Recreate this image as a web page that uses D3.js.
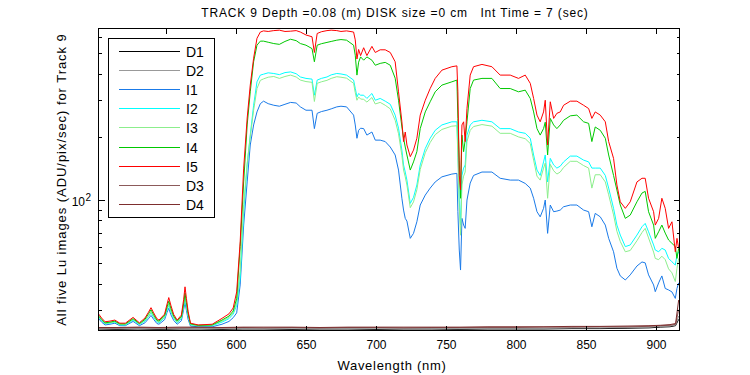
<!DOCTYPE html>
<html><head><meta charset="utf-8">
<script src="https://cdn.jsdelivr.net/npm/d3@7"></script>
<style>
html,body{margin:0;padding:0;background:#fff;}
svg{display:block;font-family:"Liberation Sans",Arial,sans-serif;}
</style></head>
<body><svg id="chart" width="750" height="375"></svg>
<script>
// ---------- data ----------
const titleText = "TRACK 9 Depth =0.08 (m) DISK size =0 cm   Int Time = 7 (sec)";
const xLabel = "Wavelength (nm)";
const yLabel = "All five Lu images (ADU/pix/sec) for Track 9";
const xTicks = [550, 600, 650, 700, 750, 800, 850, 900];
const yMajorTicks = [100];
const yMinorTicks = [30, 40, 50, 60, 70, 80, 90, 200, 300, 400, 500, 600];
const seriesNames = ["D1", "D2", "I1", "I2", "I3", "I4", "I5", "D3", "D4"];
const seriesColors = ["#000000", "#999999", "#1a7ae8", "#00ffff", "#8cee8c", "#00c800", "#ff0000", "#8c5a5a", "#7d2e2e"];

const wave = [
502, 504, 506.5, 510, 513.5, 517, 521, 526.5, 531, 535,
537.5, 539.3, 541.2, 543.5, 545, 549, 550.8, 552, 553.5, 555.5, 558, 561, 562.6, 563.6, 564.6, 565.8,
567.5, 573, 583, 590, 595, 598, 600.5,
603, 605.5, 608, 610.2, 612.6, 615, 617.4, 619.7,
623, 627, 631, 635, 639, 643, 646, 650, 654.3, 656, 658, 661, 665, 668, 672, 675, 679, 684, 685.2, 686.4, 687.6, 689, 691.2, 693.5, 697.1, 699.5, 703, 706.6, 710.2,
713.7, 716.1, 718.5, 719.7, 720.9, 722.1, 724.5, 726.8, 729.2, 731.6, 735.2, 738.7, 742.3, 747.1, 754.2, 757.8, 758.5, 759.5, 760.4, 761.4, 762.6, 763.7, 765, 767.3, 769.7, 775.7, 782.8, 788.7, 795.9, 801.8, 806.6,
810.2, 812.6, 815, 817.3, 819.7, 820.9, 822.6, 824.5, 826.9, 829.2, 831.6, 834, 838.8, 843.5, 848.3, 851.9, 854.2, 856.6, 860.2, 863.8, 866.2, 869.7, 872.1, 874.5, 878.1, 881.6, 886.4, 890, 892.3, 894.7, 898.3, 899.5, 901.9, 904.2, 906.6, 909, 911.4, 913.8, 915, 916.2];

const I1 = [
27.2, 26.2, 25.4, 25.6, 25.9, 25.2, 25.2, 26.4, 25.2, 26.0,
27.2, 28.2, 27.0, 25.8, 25.6, 26.9, 29.2, 30.5, 28.4, 26.7, 25.6, 26.6, 30.0, 32.5, 29.8, 27.0,
25.1, 24.9, 24.9, 25.6, 26.4, 27.5, 29.0,
39.4, 76, 122, 183, 228, 263, 288, 296,
288, 283, 280, 286, 292, 290, 278, 268, 268, 219, 259, 264, 268, 272, 278, 280, 278, 254, 228, 197, 215, 220, 219, 204, 211, 193, 193, 190, 179,
164, 139, 102, 89.6, 81.8, 79.4, 65.7, 69.4, 78.8, 94.7, 105.6, 114, 122, 129, 133, 134, 88, 57.8, 46.4, 81.8, 76, 73.3, 100, 120.5, 131, 136, 136, 127, 124.5, 124.5, 120,
114, 102, 88, 83.2, 91.3, 100, 69.4, 94.7, 88, 88.6, 89.6, 92.9, 94.7, 94.7, 89.6, 88, 74.6, 86.4, 83.2, 76, 65.7, 56.7, 47.3, 43.5, 41.6, 44.0, 48.5, 50.7, 50.2, 44, 39.4, 36.6, 40.3, 43.5, 37.9, 37.3, 36.5, 34.0, 37.9, 40.3];

const I2 = [
27.6, 26.6, 25.7, 25.9, 26.2, 25.4, 25.4, 26.8, 25.5, 26.5,
27.8, 29.0, 27.6, 26.3, 26.0, 27.5, 30.0, 31.5, 29.2, 27.4, 26.0, 27.2, 31.0, 34.0, 31.0, 28.0,
25.4, 25.1, 25.2, 26.2, 27.2, 28.6, 31.5,
42.5, 88, 147, 204, 283, 366, 394, 398,
404, 401, 396, 405, 408, 400, 386, 380, 377, 316, 373, 380, 386, 395, 401, 399, 394, 373, 341, 310, 322, 316, 316, 305, 322, 299, 305, 296, 286,
254, 220, 173, 147, 136, 124.5, 96.4, 103, 118, 147, 176, 197, 215, 228, 236, 236, 173, 100, 76, 131, 142, 147, 204, 228, 236, 240, 236, 219, 219, 211, 208,
197, 164, 139, 131, 152, 164, 122, 158, 147, 142, 145, 152, 162, 162, 155, 152, 142, 142, 142, 131, 114, 91.3, 76, 68.1, 60.0, 61.1, 68.1, 74.6, 77.4, 70.6, 61.1, 57.8, 56.7, 58.9, 57.8, 52.7, 50.8, 49.0, 54.7, 56.7];

const I3 = [
27.8, 26.8, 25.8, 26.0, 26.3, 25.5, 25.5, 27.0, 25.6, 26.7,
28.0, 29.3, 27.9, 26.5, 26.2, 27.7, 30.5, 32.0, 29.6, 27.6, 26.2, 27.4, 31.5, 34.8, 31.5, 28.3,
25.5, 25.2, 25.3, 26.5, 27.6, 29.0, 32.5,
46, 95, 150, 200, 268, 340, 372, 378,
385, 388, 380, 388, 394, 386, 373, 367, 364, 295, 360, 366, 372, 380, 387, 385, 381, 360, 325, 299, 310, 303, 302, 293, 308, 287, 292, 283, 272,
240, 207, 163, 139, 129, 118, 92, 98, 112, 140, 168, 188, 205, 217, 225, 226, 160, 92, 68, 118, 130, 136, 190, 215, 224, 229, 225, 208, 208, 200, 196,
186, 155, 130, 124.5, 142, 150, 102, 148, 138, 133, 136, 143, 153, 153, 146, 142, 114, 132, 132, 122, 106, 85, 71, 63.5, 56.7, 57.5, 64, 70, 73.3, 66, 56.5, 52.7, 52, 54, 52, 47, 45, 40.9, 47.3, 52.7];

const I4 = [
28.0, 27.0, 26.0, 26.2, 26.5, 25.7, 25.7, 27.2, 25.8, 27.0,
28.7, 30.0, 28.4, 26.8, 26.5, 28.1, 31.0, 33.0, 30.5, 28.0, 26.5, 27.8, 32.0, 36.0, 32.5, 28.8,
25.7, 25.3, 25.4, 26.8, 28.0, 29.6, 34.0,
60, 122, 228, 328, 456, 547, 572, 572,
565, 557, 552, 570, 584, 575, 557, 547, 527, 456, 547, 556, 564, 570, 578, 582, 578, 547, 490, 394, 454, 481, 464, 481, 464, 439, 448, 453, 439,
381, 299, 223, 197, 179, 164, 139, 152, 170, 219, 263, 294, 328, 353, 366, 373, 245, 155, 102, 204, 170, 193, 236, 340, 373, 380, 380, 340, 340, 328, 334,
305, 263, 219, 204, 219, 235, 164, 245, 228, 219, 228, 240, 252, 254, 236, 232, 190, 223, 215, 197, 164, 131, 111.6, 94.7, 81.8, 84.8, 98.1, 108, 110, 88.0, 76.0, 65.7, 70.6, 76, 69.6, 64.5, 62.2, 60.0, 52.7, 58.9];

const I5 = [
28.6, 27.4, 26.3, 26.5, 26.8, 25.9, 25.9, 27.6, 26.0, 27.4,
29.2, 30.7, 29.0, 27.2, 26.8, 28.6, 32.0, 34.3, 31.5, 28.5, 26.8, 28.3, 33.5, 38.6, 34.0, 29.5,
25.9, 25.4, 25.6, 27.3, 28.7, 30.6, 36.5,
63.3, 142, 246, 353, 474, 590, 632, 640,
636, 642, 645, 636, 638, 642, 632, 612, 600, 505, 622, 634, 642, 645, 642, 636, 640, 632, 580, 470, 522, 488, 532, 488, 540, 505, 520, 520, 505,
456, 328, 236, 190, 211, 183, 161, 173, 197, 254, 299, 340, 380, 416, 432, 436, 328, 131, 112, 228, 236, 190, 273, 394, 432, 443, 432, 394, 394, 380, 394,
360, 305, 254, 236, 263, 299, 183, 294, 245, 259, 263, 283, 296, 296, 283, 273, 245, 263, 254, 236, 190, 158, 118, 98.1, 91.3, 98.1, 122, 127, 127, 102, 88, 76, 81.8, 102, 91.3, 73.3, 78.8, 56.7, 65.7, 58.9];

const dWave = [502, 515, 530, 545, 560, 575, 590, 605, 620, 640, 660, 680, 700, 720, 740, 760, 780, 800, 820, 840, 860, 880, 895, 903, 910, 914, 916.2];
const D1 = [24.3, 24.2, 24.3, 24.2, 24.3, 24.3, 24.2, 24.3, 24.3, 24.2, 24.3, 24.3, 24.2, 24.3, 24.3, 24.2, 24.3, 24.3, 24.3, 24.4, 24.4, 24.5, 24.6, 24.8, 24.9, 25.2, 27.0];
const D2 = [24.5, 24.4, 24.5, 24.4, 24.5, 24.4, 24.5, 24.5, 24.4, 24.5, 24.5, 24.4, 24.5, 24.5, 24.5, 24.4, 24.5, 24.5, 24.5, 24.6, 24.6, 24.7, 24.8, 25.0, 25.1, 25.4, 28.0];
const D3 = [24.6, 24.6, 24.7, 24.6, 24.6, 24.7, 24.6, 24.7, 24.6, 24.7, 24.6, 24.7, 24.7, 24.6, 24.7, 24.7, 24.7, 24.7, 24.8, 24.8, 24.9, 24.9, 25.0, 25.2, 25.3, 25.6, 30.0];
const D4 = [24.7, 24.7, 24.8, 24.7, 24.8, 24.8, 24.7, 24.8, 24.8, 24.8, 24.7, 24.8, 24.8, 24.8, 24.8, 24.8, 24.9, 24.9, 24.9, 25.0, 25.0, 25.1, 25.2, 25.3, 25.5, 25.8, 33.4];

// ---------- build ----------
const seriesData = {
  D1: [dWave, D1], D2: [dWave, D2], I1: [wave, I1], I2: [wave, I2], I3: [wave, I3],
  I4: [wave, I4], I5: [wave, I5], D3: [dWave, D3], D4: [dWave, D4]
};

const X0 = 98.5, X1 = 679.5, Y0 = 28.5, Y1 = 330.5;
const x = d3.scaleLinear().domain([501.8, 916.8]).range([X0, X1]);
const y = d3.scaleLog().domain([23.9, 657]).range([Y1, Y0]);

const svg = d3.select("#chart");
const font = '"Liberation Sans", Arial, sans-serif';

svg.append("defs").append("clipPath").attr("id", "plotclip")
  .append("rect").attr("x", X0).attr("y", Y0).attr("width", X1 - X0).attr("height", Y1 - Y0);

// lines
const line = d3.line().x(d => x(d[0])).y(d => y(d[1]));
const gLines = svg.append("g").attr("clip-path", "url(#plotclip)");
seriesNames.forEach((name, i) => {
  const [wx, vy] = seriesData[name];
  const pts = wx.map((w, k) => [w, vy[k]]);
  gLines.append("path").datum(pts)
    .attr("d", line).attr("fill", "none")
    .attr("stroke", seriesColors[i]).attr("stroke-width", 1)
    .attr("stroke-linejoin", "round");
});

// frame
svg.append("rect").attr("x", X0).attr("y", Y0).attr("width", X1 - X0).attr("height", Y1 - Y0)
  .attr("fill", "none").attr("stroke", "#000").attr("stroke-width", 1).attr("shape-rendering", "crispEdges");

// x axes (bottom labels, ticks inward both sides)
const xAxisB = d3.axisBottom(x).tickValues(xTicks).tickSizeInner(-5).tickSizeOuter(0).tickPadding(10);
const gxb = svg.append("g").attr("transform", `translate(0,${Y1})`).call(xAxisB);
const xAxisT = d3.axisTop(x).tickValues(xTicks).tickSizeInner(-5).tickSizeOuter(0).tickFormat("");
const gxt = svg.append("g").attr("transform", `translate(0,${Y0})`).call(xAxisT);
[gxb, gxt].forEach(g => {
  g.select(".domain").remove();
  g.selectAll(".tick line").attr("stroke", "#000").attr("shape-rendering", "crispEdges");
  g.selectAll("text").attr("font-family", font).attr("font-size", "12px").attr("fill", "#000");
});

// y axes
function yAxisGroup(side) {
  const g = svg.append("g");
  const x0 = side === "left" ? X0 : X1;
  const maj = side === "left" ? d3.axisLeft(y) : d3.axisRight(y);
  maj.tickValues(yMajorTicks).tickSizeInner(-6).tickSizeOuter(0).tickFormat("");
  const gm = g.append("g").attr("transform", `translate(${x0},0)`).call(maj);
  const mnr = side === "left" ? d3.axisLeft(y) : d3.axisRight(y);
  mnr.tickValues(yMinorTicks).tickSizeInner(-3).tickSizeOuter(0).tickFormat("");
  const gn = g.append("g").attr("transform", `translate(${x0},0)`).call(mnr);
  [gm, gn].forEach(a => {
    a.select(".domain").remove();
    a.selectAll(".tick line").attr("stroke", "#000").attr("shape-rendering", "crispEdges");
  });
}
yAxisGroup("left");
yAxisGroup("right");

// y tick label 10^2
const yl = svg.append("g").attr("font-family", font).attr("fill", "#000");
yl.append("text").attr("x", 85).attr("y", y(100) + 6).attr("text-anchor", "end")
  .attr("font-size", "12px").text("10");
yl.append("text").attr("x", 85.5).attr("y", y(100) + 0.5).attr("text-anchor", "start")
  .attr("font-size", "10px").text("2");

// title and axis labels
svg.append("text").attr("x", 395).attr("y", 16.5).attr("text-anchor", "middle")
  .attr("font-family", font).attr("font-size", "12px").attr("letter-spacing", "0.85px")
  .attr("xml:space", "preserve").style("white-space", "pre").text(titleText);
svg.append("text").attr("x", (X0 + X1) / 2 + 3).attr("y", 370).attr("text-anchor", "middle")
  .attr("font-family", font).attr("font-size", "13px").attr("letter-spacing", "0.7px").text(xLabel);
svg.append("text").attr("transform", `translate(66,${(Y0 + Y1) / 2}) rotate(-90)`)
  .attr("text-anchor", "middle").attr("font-family", font).attr("font-size", "13px")
  .attr("letter-spacing", "0.95px").text(yLabel);

// legend
const lg = svg.append("g");
lg.append("rect").attr("x", 108.5).attr("y", 38.5).attr("width", 106).attr("height", 179)
  .attr("fill", "#fff").attr("stroke", "#000").attr("stroke-width", 1).attr("shape-rendering", "crispEdges");
seriesNames.forEach((name, i) => {
  const cy = Math.round(51 + i * 19.1) + 0.5;
  lg.append("line").attr("x1", 119).attr("x2", 180).attr("y1", cy).attr("y2", cy)
    .attr("stroke", seriesColors[i]).attr("stroke-width", 1).attr("shape-rendering", "crispEdges");
  lg.append("text").attr("x", 186).attr("y", cy + 5.5).attr("font-family", font)
    .attr("font-size", "14px").attr("fill", "#000").text(name);
});
</script></body></html>
